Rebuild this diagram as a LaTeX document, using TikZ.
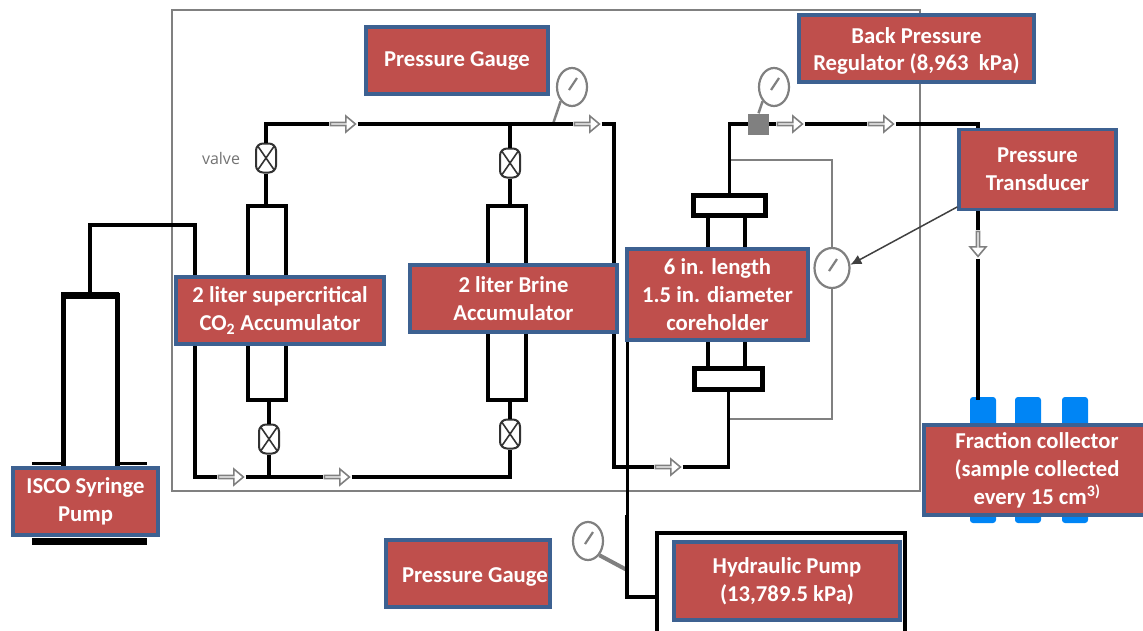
\documentclass[tikz,border=0pt]{standalone}
\usepackage{fontspec}
\setmainfont{Carlito}
\newfontfamily\valvefont{Open Sans}
\usetikzlibrary{shapes.geometric,shapes.arrows,shadows,arrows.meta}
\definecolor{boxred}{rgb}{0.75, 0.31, 0.30}
\definecolor{boxblue}{rgb}{0.24, 0.38, 0.57}
\definecolor{boxnavy}{rgb}{0.10, 0.16, 0.36}
\definecolor{linegray}{rgb}{0.50, 0.50, 0.50}
\definecolor{tubeblue}{rgb}{0.0, 0.52, 0.96}
\tikzset{
  redbox/.style={fill=boxred, draw=boxblue, line width=3.5pt, text=white, align=center, inner sep=0pt,
    font=\bfseries\fontsize{22.7}{28}\selectfont},
  pipe/.style={line width=3.4pt, black},
  grayline/.style={line width=2.5pt, linegray},
  vessel/.style={draw=black, fill=white, line width=3.4pt, rectangle, inner sep=0pt},
  valvenode/.style={draw=black!80, fill=white, rectangle, rounded corners=7pt, line width=2pt, inner sep=0pt,
    minimum width=20pt, minimum height=29pt,
    path picture={\draw[sharp corners, line width=1.6pt, black!80] (path picture bounding box.north west) -- (path picture bounding box.south east)
      (path picture bounding box.north east) -- (path picture bounding box.south west);}},
  gauge/.style={draw=linegray, fill=white, ellipse, line width=2.2pt, inner sep=0pt,
    minimum width=30pt, minimum height=38pt,
    path picture={\draw[line width=2.2pt, linegray] (path picture bounding box.center) ++(-3,3) -- ++(8,-12);}},
  flow/.style={single arrow, draw=linegray, fill=white, line width=1.6pt, inner sep=0pt, outer sep=1.5pt,
    minimum width=16pt, minimum height=25pt, single arrow head extend=3.5pt, single arrow tip angle=80},
  tube/.style={fill=tubeblue, rectangle, rounded corners=3pt, inner sep=0pt, minimum width=26pt, minimum height=126pt}
}
\begin{document}
\begin{tikzpicture}[x=1pt, y=-1pt]
  \useasboundingbox (0,0) rectangle (1143,630);
  \clip (0,0) rectangle (1143,630);

  % Frame
  \node[draw=linegray, line width=2.5pt, inner sep=0pt, minimum width=748pt, minimum height=481pt] (frame) at (546,250.5) {};

  % Syringe pump
  \coordinate (baseL) at (32,463.5);
  \coordinate (baseR) at (147,463.5);
  \coordinate (footL) at (32,541.5);
  \coordinate (footR) at (147,541.5);
  \coordinate (bandL) at (61,295);
  \coordinate (bandR) at (119,295);
  \draw[pipe] (baseL) -- (baseR);
  \draw[line width=7pt] (footL) -- (footR);
  \node[vessel, line width=5pt, minimum width=54pt, minimum height=176pt] (pumpbody) at (90,383) {};
  \draw[line width=7pt] (bandL) -- (bandR);

  % Accumulators
  \node[vessel, minimum width=38pt, minimum height=194pt] (vesselA) at (267,303) {};
  \node[vessel, minimum width=38pt, minimum height=194pt] (vesselB) at (507,303) {};
  \node[valvenode] (valveA) at (266,158) {};
  \node[valvenode] (valveB) at (510,163) {};
  \node[valvenode] (valveC) at (269,439) {};
  \node[valvenode] (valveD) at (510,434) {};
  \node[font=\valvefont\fontsize{16}{18}\selectfont, text=black!55, inner sep=0pt] (valvelabel) at (221,158) {valve};

  % Coreholder
  \node[vessel, minimum width=37pt, minimum height=165pt] (core) at (726.5,292) {};
  \node[vessel, line width=5.5pt, minimum width=72pt, minimum height=20pt] (flangeA) at (729.5,205.5) {};
  \node[vessel, line width=5.5pt, minimum width=68pt, minimum height=21pt] (flangeB) at (728.5,379) {};

  % Flow arrows
  \node[flow] (flowA) at (342,124) {};
  \node[flow] (flowB) at (586,124) {};
  \node[flow] (flowC) at (789,124) {};
  \node[flow] (flowD) at (880,124) {};
  \node[flow, rotate=270] (flowE) at (978,243) {};
  \node[flow] (flowF) at (667,467) {};
  \node[flow] (flowG) at (230,477) {};
  \node[flow] (flowH) at (336,477) {};

  % Gauges
  \node[gauge] (gaugeA) at (572,87) {};
  \node[gauge] (gaugeB) at (774,87) {};
  \node[gauge, minimum width=35pt, minimum height=40pt] (gaugeC) at (832,268) {};
  \node[gauge] (gaugeD) at (588,541) {};
  \node[fill=linegray, inner sep=0pt, minimum size=21pt] (regulator) at (758.5,124) {};

  % Tubes
  \node[tube] (tubeA) at (983,460) {};
  \node[tube] (tubeB) at (1028,460) {};
  \node[tube] (tubeC) at (1075,460) {};

  % Junctions
  \coordinate (topA) at (266,124);
  \coordinate (topB) at (510,124);
  \coordinate (topC) at (614,124);
  \coordinate (topE) at (978,124);
  \coordinate (tapA) at (553,124);
  \coordinate (tapB) at (728,160);
  \coordinate (tapC) at (728,419);
  \coordinate (vesA) at (266,206);
  \coordinate (vesB) at (510,206);
  \coordinate (vesC) at (269,400);
  \coordinate (vesD) at (510,400);
  \coordinate (lowA) at (195,225);
  \coordinate (lowB) at (195,477);
  \coordinate (lowC) at (269,477);
  \coordinate (lowD) at (510,477);
  \coordinate (midA) at (614,467);
  \coordinate (hydA) at (627,342);
  \coordinate (hydB) at (627,515);
  \coordinate (hydC) at (657,597);
  \coordinate (hydD) at (627,570);
  \coordinate (hydE) at (657,640);
  \coordinate (hydF) at (905,533);
  \coordinate (hydG) at (905,640);
  \coordinate (tubeT) at (978,400);

  % Gray lines
  \draw[grayline] (gaugeA.south west) -- (tapA);
  \draw[grayline] (gaugeB.south west) -- (regulator.north);
  \draw[grayline] (tapB) -| (gaugeC.north);
  \draw[grayline] (gaugeC.south) |- (tapC);
  \draw[linegray, line width=4pt] (gaugeD.south east) -- (hydD);

  % Pipes
  \draw[pipe] (valveA.south) -- (vesA);
  \draw[pipe] (valveB.south) -- (vesB);
  \draw[pipe] (valveA.north) -- (topA) -- (flowA.west);
  \draw[pipe] (flowA.east) -- (flowB.west);
  \draw[pipe] (valveB.north) -- (topB);
  \draw[pipe] (flowB.east) -- (topC) -- (midA) -- (flowF.west);
  \draw[pipe] (flowF.east) -| (flangeB.south);
  \draw[pipe] (flangeA.north) |- (regulator.west);
  \draw[pipe] (regulator.east) -- (flowC.west);
  \draw[pipe] (flowC.east) -- (flowD.west);
  \draw[pipe] (flowD.east) -- (topE) -- (flowE.west);
  \draw[pipe] (flowE.east) -- (tubeT);
  \draw[pipe] (pumpbody.north) |- (lowA) -- (lowB) -- (flowG.west);
  \draw[pipe] (flowG.east) -- (flowH.west);
  \draw[pipe] (flowH.east) -- (lowD) -- (valveD.south);
  \draw[pipe] (valveD.north) -- (vesD);
  \draw[pipe] (valveC.north) -- (vesC);
  \draw[pipe] (valveC.south) -- (lowC);
  \draw[line width=3pt] (hydA) -- (hydB);
  \draw[line width=3.5pt] (hydB) |- (hydC);
  \draw[pipe] (hydE) |- (hydF) -- (hydG);

  % Labels
  \node[redbox, copy shadow={shadow xshift=2pt, shadow yshift=2pt, fill=boxnavy, draw=none}, minimum width=182pt, minimum height=67pt] (gaugeboxA) at (457,60.5) {Pressure Gauge};
  \node[redbox, minimum width=235pt, minimum height=67pt] (backbox) at (916.5,48.5) {\raisebox{-2.5pt}[\height][\depth]{Back Pressure}\\\raisebox{-2pt}[\height][\depth]{Regulator (8,963\ \ kPa)}};
  \node[redbox, copy shadow={shadow xshift=1.5pt, shadow yshift=0pt, fill=boxnavy, draw=none}, minimum width=157pt, minimum height=80pt] (transducer) at (1037.5,169.5) {Pressure\\Transducer};
  \node[redbox, minimum width=208pt, minimum height=67pt] (co2box) at (280,310.5) {2 liter supercritical\\CO\textsubscript{2} Accumulator};
  \node[redbox, minimum width=207pt, minimum height=67pt] (brinebox) at (513.5,298.5) {2 liter Brine\\Accumulator};
  \node[redbox, minimum width=181pt, minimum height=91pt] (corebox) at (717.5,294.5) {6 in. length\\1.5 in. diameter\\coreholder};
  \node[redbox, minimum width=145pt, minimum height=67pt] (iscobox) at (85.5,501.5) {ISCO Syringe\\Pump};
  \node[redbox, minimum width=164pt, minimum height=67pt] (gaugeboxB) at (468,573.5) {\raisebox{-3pt}[\height][\depth]{\hspace*{14pt}Pressure Gauge}};
  \node[redbox, copy shadow={shadow xshift=1.5pt, shadow yshift=0pt, fill=boxnavy, draw=none}, minimum width=226pt, minimum height=78pt] (hydbox) at (787,581) {Hydraulic Pump\\(13,789.5 kPa)};
  \node[redbox, minimum width=226pt, minimum height=90pt] (fractionbox) at (1037,470) {Fraction collector\\(sample collected\\every 15 cm\textsuperscript{3)}};

  % Transducer pointer
  \draw[-{Latex[length=11pt,width=10pt]}, line width=1.5pt, black!75] (transducer.205) -- (gaugeC.10);
\end{tikzpicture}
\end{document}
